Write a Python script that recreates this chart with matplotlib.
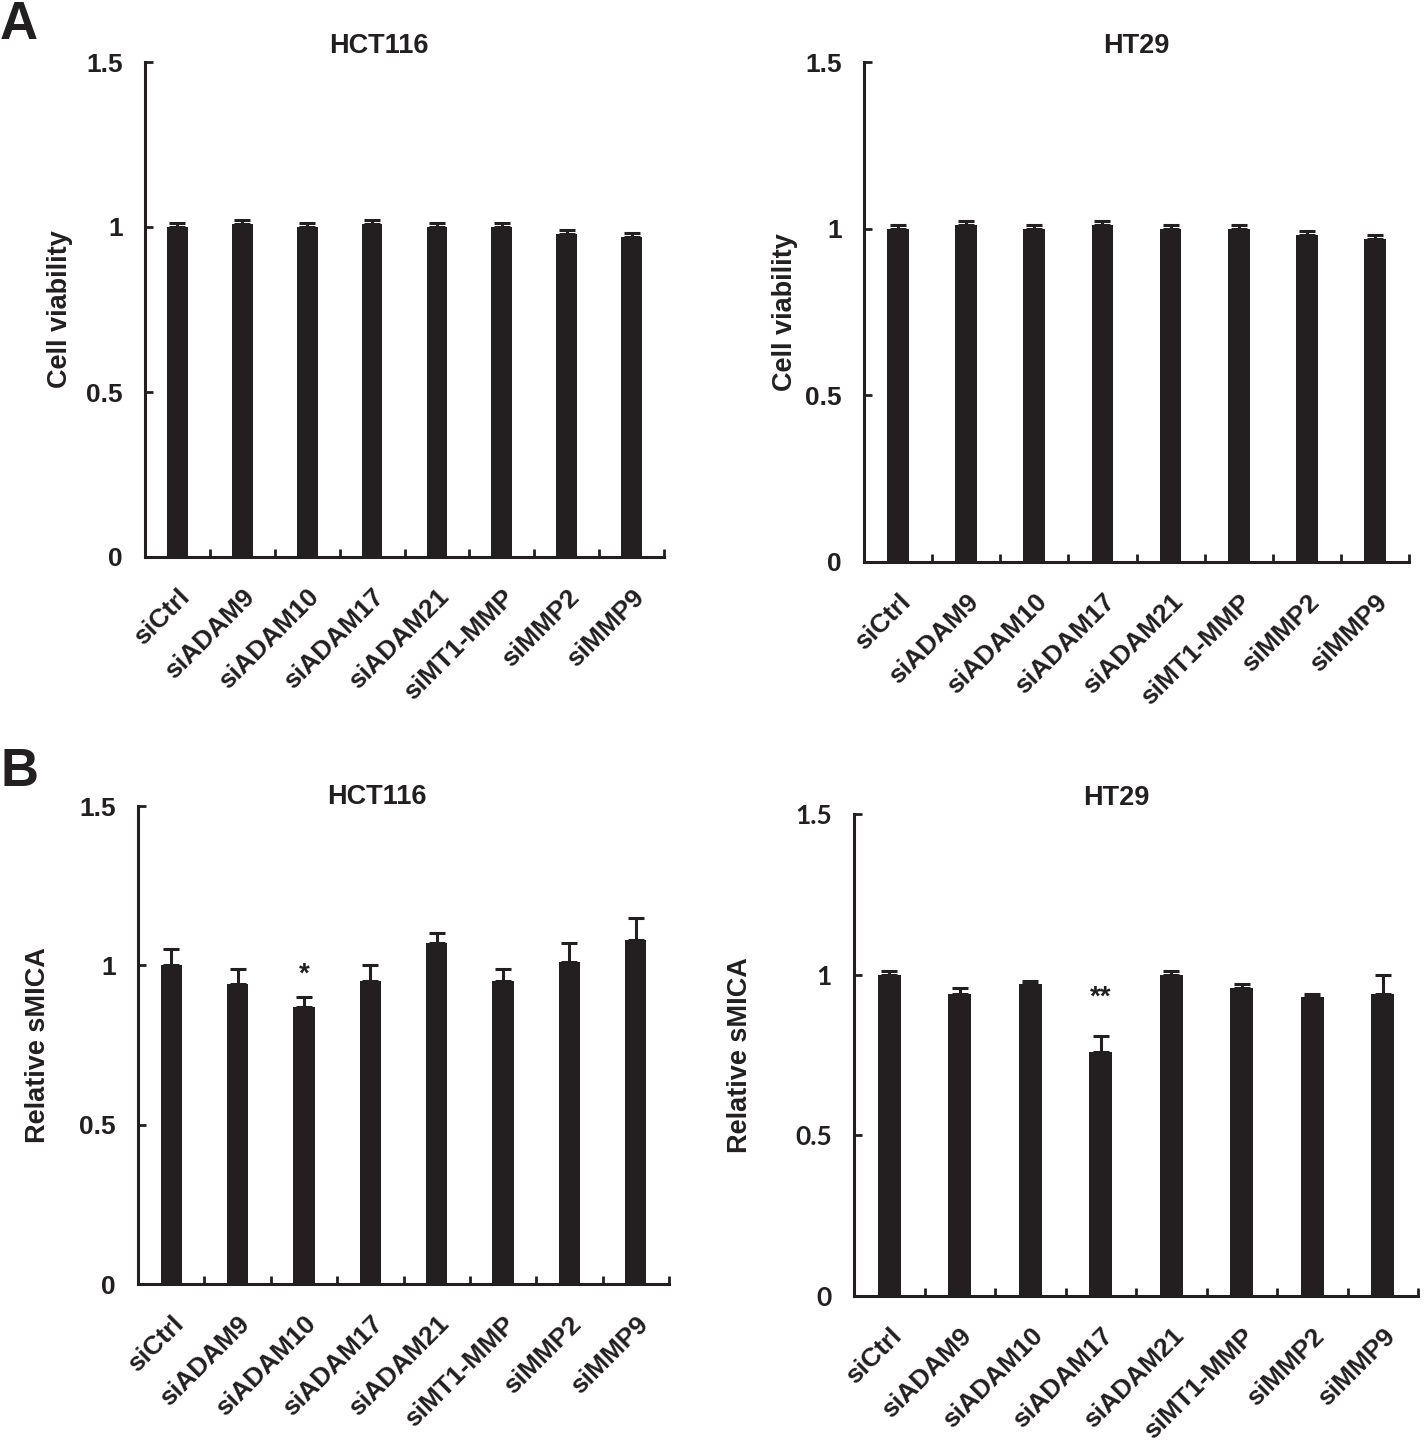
import numpy as np
import matplotlib
matplotlib.use('Agg')
import matplotlib.pyplot as plt
from matplotlib.ticker import FixedLocator

plt.rcParams['font.family'] = ['Liberation Sans', 'DejaVu Sans']
plt.rcParams['font.weight'] = 'bold'

dark = '#231f20'

groups = ['siCtrl', 'siADAM9', 'siADAM10', 'siADAM17', 'siADAM21',
          'siMT1-MMP', 'siMMP2', 'siMMP9']

# A: cell viability
via_hct = [1.00, 1.01, 1.00, 1.01, 1.00, 1.00, 0.98, 0.97]
via_hct_err = [0.012, 0.012, 0.012, 0.012, 0.012, 0.012, 0.012, 0.012]
via_ht = [1.00, 1.01, 1.00, 1.01, 1.00, 1.00, 0.98, 0.97]
via_ht_err = [0.012, 0.012, 0.012, 0.012, 0.012, 0.012, 0.012, 0.012]

# B: relative sMICA
smica_hct = [1.00, 0.94, 0.87, 0.95, 1.07, 0.95, 1.01, 1.08]
smica_hct_err = [0.05, 0.05, 0.03, 0.05, 0.03, 0.04, 0.06, 0.07]
smica_ht = [1.00, 0.94, 0.97, 0.76, 1.00, 0.96, 0.93, 0.94]
smica_ht_err = [0.01, 0.02, 0.01, 0.05, 0.01, 0.01, 0.01, 0.06]

stars_hct = ['', '', '*', '', '', '', '', '']
stars_ht = ['', '', '', '**', '', '', '', '']

W, H = 1424, 1444
fig = plt.figure(figsize=(W / 100, H / 100), dpi=100)


def panel(px, vals, errs, title, title_x, title_gap, ylabel, ylab_dist,
          stars=None, star_off=0.08, ytick_font=None):
    x0, x1, ytop, ybot = px
    ax = fig.add_axes([x0 / W, 1 - ybot / H, (x1 - x0) / W, (ybot - ytop) / H])
    x = np.arange(len(groups))
    ax.bar(x, vals, width=0.32, color=dark, zorder=2)
    ax.errorbar(x, vals, yerr=[np.zeros(len(vals)), errs], fmt='none',
                ecolor=dark, elinewidth=2.2, capsize=6, capthick=2.2, zorder=1)
    ax.set_xlim(-0.5, len(groups) - 0.5)
    ax.set_ylim(0, 1.5)
    ax.set_yticks([0, 0.5, 1, 1.5])
    ax.set_yticklabels(['0', '0.5', '1', '1.5'])
    ax.set_xticks(x)
    ax.set_xticklabels(groups, rotation=45, ha='right', va='top',
                       rotation_mode='anchor', fontsize=19, fontweight='bold',
                       color=dark)
    ax.xaxis.set_minor_locator(FixedLocator(np.arange(-0.5, len(groups), 1.0)))
    ax.tick_params(axis='x', which='major', length=0, pad=20)
    ax.tick_params(axis='x', which='minor', direction='in', length=6,
                   width=2, color=dark)
    ax.tick_params(axis='y', direction='in', length=6, width=2, color=dark,
                   labelsize=19, labelcolor=dark, pad=16)
    for lab in ax.get_yticklabels():
        lab.set_fontweight('bold')
        if ytick_font:
            lab.set_family(ytick_font)
    for s in ['top', 'right']:
        ax.spines[s].set_visible(False)
    for s in ['left', 'bottom']:
        ax.spines[s].set_linewidth(2.2)
        ax.spines[s].set_color(dark)
    ax.set_ylabel(ylabel, fontsize=19.5, fontweight='bold', color=dark,
                  va='center')
    ax.yaxis.set_label_coords(-ylab_dist / (x1 - x0), 0.5)
    ax.text(title_x, 1 + title_gap / (ybot - ytop), title,
            transform=ax.transAxes, ha='center', va='center', fontsize=19.5,
            fontweight='bold', color=dark)
    if stars:
        for i, s in enumerate(stars):
            if s:
                ax.text(i, vals[i] + errs[i] + star_off, s, ha='center',
                        va='center', fontsize=20, fontweight='bold', color=dark)
    return ax


panel((145, 664, 62, 557), via_hct, via_hct_err, 'HCT116', 0.45, 16,
      'Cell viability', 85)
panel((864, 1409, 62, 562), via_ht, via_ht_err, 'HT29', 0.5, 16,
      'Cell viability', 79)
panel((138, 669, 806, 1284), smica_hct, smica_hct_err, 'HCT116', 0.45, 9,
      'Relative sMICA', 100, stars_hct, 0.07)
panel((854, 1418, 814, 1296), smica_ht, smica_ht_err, 'HT29', 0.465, 16,
      'Relative sMICA', 114, stars_ht, 0.12,
      ytick_font=['Lato', 'DejaVu Sans'])

fig.text(0 / W, 1 - 25 / H, 'A', fontsize=38, fontweight='bold', color=dark,
         va='center', ha='left')
fig.text(0 / W, 1 - 772 / H, 'B', fontsize=38, fontweight='bold', color=dark,
         va='center', ha='left')

fig.savefig('out.png', dpi=100, facecolor='white')
